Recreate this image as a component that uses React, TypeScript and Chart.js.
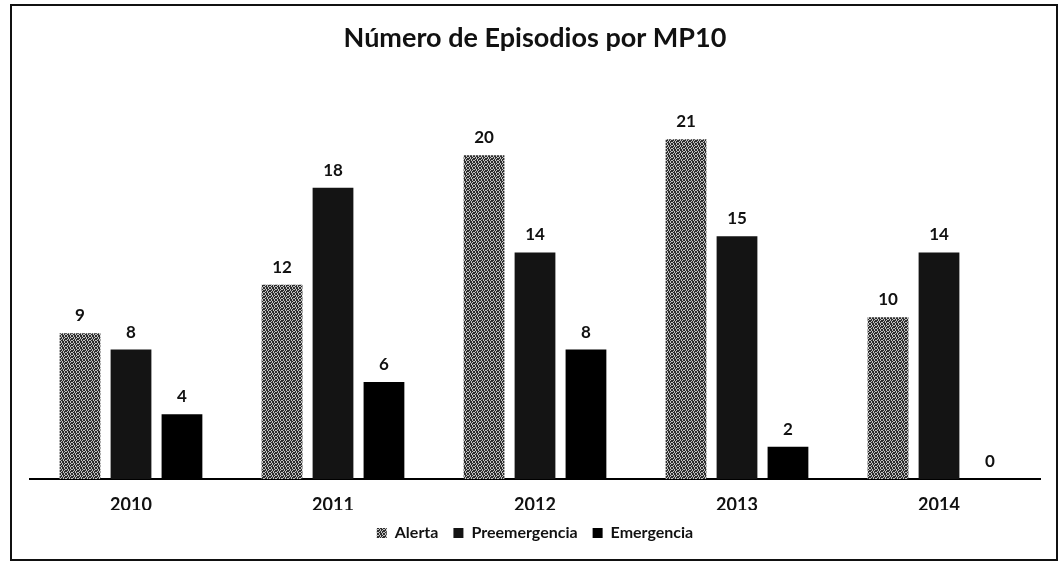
import React, { useEffect, useRef } from "react";
import { Chart, registerables } from "chart.js";

Chart.register(...registerables);

const TITLE = "Número de Episodios por MP10";
const YEARS = ["2010", "2011", "2012", "2013", "2014"];
const SERIES_NAMES = ["Alerta", "Preemergencia", "Emergencia"];
const ALERTA = [9, 12, 20, 21, 10];
const PREEMERGENCIA = [8, 18, 14, 15, 14];
const EMERGENCIA = [4, 6, 8, 2, 0];
const Y_MAX = 25;

function makeStipple(): CanvasPattern | string {
  const mask = [
    "#.##.#",
    ".#.##.",
    "##.#.#",
    "#.#.##",
    ".##.#.",
    "#.##.#",
  ];
  const c = document.createElement("canvas");
  c.width = 6;
  c.height = 6;
  const g = c.getContext("2d");
  if (!g) return "#777";
  for (let y = 0; y < 6; y++) {
    for (let x = 0; x < 6; x++) {
      g.fillStyle = mask[y][x] === "#" ? "#2e2e2e" : "#c4c4c4";
      g.fillRect(x, y, 1, 1);
    }
  }
  const p = g.createPattern(c, "repeat");
  return p || "#777";
}

const valueLabels = {
  id: "valueLabels",
  afterDatasetsDraw(chart: any) {
    const ctx = chart.ctx;
    ctx.save();
    ctx.font = "bold 17px Lato";
    ctx.fillStyle = "#111";
    ctx.textAlign = "center";
    ctx.textBaseline = "alphabetic";
    chart.data.datasets.forEach((ds: any, i: number) => {
      const meta = chart.getDatasetMeta(i);
      meta.data.forEach((el: any, j: number) => {
        ctx.fillText(String(ds.data[j]), el.x, el.y - 12);
      });
    });
    ctx.restore();
  },
};

export default function App() {
  const ref = useRef<HTMLCanvasElement | null>(null);
  useEffect(() => {
    if (!ref.current) return;
    Chart.defaults.font.family = "Lato";
    const stipple = makeStipple();
    const chart = new Chart(ref.current, {
      type: "bar",
      data: {
        labels: YEARS,
        datasets: [
          { label: SERIES_NAMES[0], data: ALERTA, backgroundColor: stipple as any, borderWidth: 0 },
          { label: SERIES_NAMES[1], data: PREEMERGENCIA, backgroundColor: "#141414", borderWidth: 0 },
          { label: SERIES_NAMES[2], data: EMERGENCIA, backgroundColor: "#000000", borderWidth: 0 },
        ],
      },
      options: {
        responsive: false,
        animation: false,
        datasets: { bar: { categoryPercentage: 0.757, barPercentage: 0.8 } },
        layout: { padding: { left: 30, right: 21, top: 0, bottom: 13 } },
        plugins: {
          title: {
            display: true,
            text: TITLE,
            color: "#111",
            font: { family: "Lato", size: 27, weight: "bold" },
            padding: { top: 22, bottom: 20 },
          },
          legend: {
            display: true,
            position: "bottom",
            labels: {
              color: "#111",
              font: { family: "Lato", size: 16, weight: "bold" },
              boxWidth: 10,
              boxHeight: 10,
              padding: 15,
            },
          },
          tooltip: { enabled: false },
        },
        scales: {
          x: {
            grid: {
              display: true,
              drawOnChartArea: false,
              drawTicks: true,
              tickLength: 22,
              color: "rgba(0,0,0,0)",
            },
            border: { display: true, color: "#000", width: 2 },
            ticks: {
              color: "#111",
              font: { family: "Lato", size: 18, weight: "bold", lineHeight: 0.5 },
              padding: 0,
            },
          },
          y: {
            display: false,
            min: 0,
            max: Y_MAX,
          },
        },
      },
      plugins: [valueLabels],
    });
    return () => chart.destroy();
  }, []);

  return (
    <div style={{ position: "absolute", left: 0, top: 0, width: 1061, height: 564, background: "#fff" }}>
      <canvas ref={ref} width={1061} height={564} style={{ display: "block" }} />
      <div
        style={{
          position: "absolute",
          left: 10,
          top: 4,
          width: 1048,
          height: 557,
          boxSizing: "border-box",
          border: "2px solid #111",
          pointerEvents: "none",
        }}
      />
    </div>
  );
}
